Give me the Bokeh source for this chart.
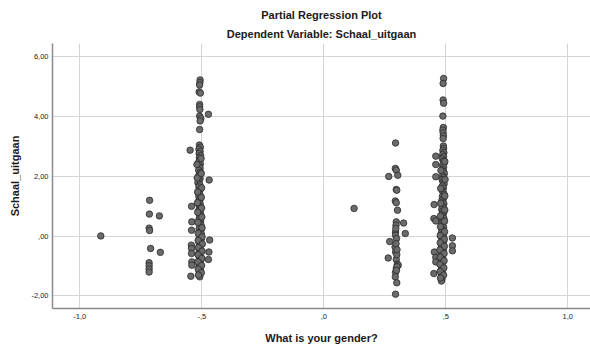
from bokeh.plotting import figure
from bokeh.models import Range1d, FixedTicker, Title, ColumnDataSource
from bokeh.embed import file_html
from bokeh.resources import INLINE

# ---- data ----
x_ticks = [-1.0, -0.5, 0.0, 0.5, 1.0]
x_tick_labels = ["-1,0", "-,5", ",0", ",5", "1,0"]
y_ticks = [-2, 0, 2, 4, 6]
y_tick_labels = ["-2,00", ",00", "2,00", "4,00", "6,00"]

far_left = [(-0.914, 0.01)]

cluster_m07 = [(-0.714, 1.20), (-0.715, 0.74), (-0.674, 0.68), (-0.716, 0.27), (-0.714, 0.19),
               (-0.710, -0.41), (-0.670, -0.54), (-0.716, -0.89), (-0.716, -0.99), (-0.716, -1.10),
               (-0.716, -1.20)]

left_top = [(-0.507, 5.23), (-0.508, 5.14), (-0.509, 5.06), (-0.511, 4.83), (-0.506, 4.79),
            (-0.509, 4.41), (-0.509, 4.33), (-0.508, 4.24), (-0.509, 4.02), (-0.504, 3.94),
            (-0.507, 3.86), (-0.509, 3.57)]

left_outliers = [(-0.473, 4.08), (-0.548, 2.88), (-0.470, 1.88), (-0.542, 1.00), (-0.541, 0.48),
                 (-0.542, 0.20), (-0.543, -0.30), (-0.542, -0.41), (-0.542, -0.58), (-0.541, -0.86),
                 (-0.541, -0.97), (-0.545, -1.34), (-0.468, -0.13), (-0.471, -0.53), (-0.473, -0.78)]

left_dense = [(-0.510, 3.05), (-0.506, 2.98), (-0.512, 2.91), (-0.507, 2.84), (-0.511, 2.77),
              (-0.505, 2.70), (-0.510, 2.63), (-0.507, 2.56), (-0.512, 2.49), (-0.506, 2.42),
              (-0.510, 2.35), (-0.507, 2.28), (-0.513, 2.21), (-0.506, 2.14), (-0.510, 2.07),
              (-0.514, 2.00), (-0.507, 1.93), (-0.511, 1.86), (-0.516, 1.79), (-0.508, 1.72),
              (-0.512, 1.65), (-0.505, 1.58), (-0.511, 1.51), (-0.515, 1.45), (-0.508, 1.39),
              (-0.512, 1.33), (-0.505, 1.27), (-0.510, 1.21), (-0.514, 1.15), (-0.507, 1.09),
              (-0.511, 1.03), (-0.504, 0.97), (-0.509, 0.91), (-0.513, 0.85), (-0.506, 0.79),
              (-0.510, 0.73), (-0.503, 0.67), (-0.508, 0.61), (-0.512, 0.55), (-0.505, 0.49),
              (-0.509, 0.43), (-0.503, 0.37), (-0.507, 0.31), (-0.511, 0.25), (-0.504, 0.19),
              (-0.508, 0.13), (-0.502, 0.07), (-0.506, 0.01), (-0.510, -0.05), (-0.503, -0.11),
              (-0.507, -0.17), (-0.511, -0.23), (-0.504, -0.29), (-0.508, -0.35), (-0.512, -0.41),
              (-0.505, -0.47), (-0.509, -0.53), (-0.513, -0.59), (-0.506, -0.65), (-0.510, -0.71),
              (-0.503, -0.77), (-0.508, -0.83), (-0.512, -0.89), (-0.505, -0.95), (-0.509, -1.01),
              (-0.513, -1.07), (-0.506, -1.13), (-0.510, -1.19), (-0.507, -1.25), (-0.511, -1.31),
              (-0.508, -1.36)]

left_dense2 = [(-0.501, 1.62), (-0.517, 1.48), (-0.502, 1.30), (-0.518, 1.12), (-0.501, 0.94),
               (-0.517, 0.80), (-0.500, 0.64), (-0.516, 0.46), (-0.499, 0.28), (-0.515, 0.10),
               (-0.499, -0.02), (-0.515, -0.14), (-0.498, -0.26), (-0.514, -0.38), (-0.499, -0.50),
               (-0.515, -0.62), (-0.500, -0.74), (-0.516, -0.86), (-0.501, -0.98), (-0.515, -1.10),
               (-0.502, -1.22), (-0.514, -1.30), (-0.520, 2.40), (-0.503, 2.60), (-0.519, 1.95),
               (-0.502, 2.10)]

single_mid = [(0.124, 0.93)]

cluster_p03 = [(0.294, 3.12), (0.293, 2.27), (0.297, 2.21), (0.303, 2.04), (0.266, 2.00),
               (0.297, 1.56), (0.299, 1.54), (0.293, 1.18), (0.297, 1.12), (0.302, 0.87),
               (0.297, 0.48), (0.296, 0.37), (0.327, 0.44), (0.334, 0.09), (0.294, 0.14),
               (0.294, 0.03), (0.298, -0.08), (0.270, -0.18), (0.292, -0.36), (0.294, -0.53),
               (0.264, -0.73), (0.297, -0.78), (0.301, -0.94), (0.305, -0.97), (0.297, -1.08),
               (0.294, -1.21), (0.293, -1.36), (0.299, -1.56), (0.294, -1.94), (0.296, -0.25),
               (0.299, -0.62), (0.300, -1.02), (0.298, -1.14), (0.295, 0.26), (0.300, -0.45)]

right_top = [(0.491, 5.28), (0.489, 5.11), (0.489, 4.56), (0.491, 4.45), (0.488, 4.02),
             (0.490, 3.64), (0.488, 3.55), (0.489, 3.46), (0.490, 3.36), (0.489, 3.27),
             (0.490, 3.02)]

right_outliers = [(0.459, 2.68), (0.459, 2.40), (0.459, 1.99), (0.452, 1.06), (0.451, 0.59),
                  (0.459, 0.51), (0.453, -0.53), (0.459, -0.71), (0.459, -0.86), (0.451, -1.25),
                  (0.527, -0.06), (0.527, -0.32), (0.527, -0.49)]

right_dense = [(0.491, 2.94), (0.488, 2.87), (0.492, 2.80), (0.487, 2.73), (0.491, 2.66),
               (0.486, 2.59), (0.490, 2.52), (0.493, 2.45), (0.487, 2.38), (0.491, 2.31),
               (0.486, 2.24), (0.490, 2.17), (0.494, 2.10), (0.487, 2.03), (0.491, 1.96),
               (0.485, 1.89), (0.489, 1.82), (0.493, 1.75), (0.486, 1.68), (0.490, 1.61),
               (0.485, 1.54), (0.489, 1.47), (0.493, 1.40), (0.486, 1.33), (0.490, 1.26),
               (0.484, 1.20), (0.488, 1.14), (0.492, 1.08), (0.485, 1.02), (0.489, 0.96),
               (0.483, 0.90), (0.487, 0.84), (0.491, 0.78), (0.484, 0.72), (0.488, 0.66),
               (0.492, 0.60), (0.485, 0.54), (0.489, 0.48), (0.483, 0.42), (0.487, 0.36),
               (0.491, 0.30), (0.484, 0.24), (0.488, 0.18), (0.482, 0.12), (0.486, 0.06),
               (0.490, 0.00), (0.483, -0.06), (0.487, -0.12), (0.491, -0.18), (0.484, -0.24),
               (0.488, -0.30), (0.482, -0.36), (0.486, -0.42), (0.490, -0.48), (0.483, -0.54),
               (0.487, -0.60), (0.481, -0.66), (0.485, -0.72), (0.489, -0.78), (0.482, -0.84),
               (0.486, -0.90), (0.480, -0.96), (0.484, -1.02), (0.488, -1.08), (0.481, -1.14),
               (0.485, -1.20), (0.482, -1.26), (0.486, -1.32), (0.481, -1.38), (0.484, -1.44),
               (0.482, -1.50)]

right_dense2 = [(0.496, 2.50), (0.480, 2.20), (0.497, 1.90), (0.479, 1.60), (0.496, 1.35),
                (0.479, 1.10), (0.496, 0.88), (0.478, 0.68), (0.495, 0.50), (0.478, 0.32),
                (0.495, 0.15), (0.477, 0.02), (0.494, -0.10), (0.477, -0.22), (0.494, -0.34),
                (0.476, -0.46), (0.493, -0.58), (0.477, -0.70), (0.493, -0.82), (0.476, -0.94),
                (0.492, -1.06), (0.477, -1.18), (0.491, -1.30), (0.478, -1.40)]

groups = [far_left, cluster_m07, left_top, left_outliers, left_dense, left_dense2,
          single_mid, cluster_p03, right_top, right_outliers, right_dense, right_dense2]
xs = [pt[0] for g in groups for pt in g]
ys = [pt[1] for g in groups for pt in g]

FONT = "Liberation Sans"

p = figure(width=590, height=351, output_backend="svg", toolbar_location=None,
           x_range=Range1d(-1.112, 1.093), y_range=Range1d(-2.42, 6.45),
           min_border_left=52, min_border_right=0, min_border_top=43, min_border_bottom=43)
p.background_fill_color = "white"
p.border_fill_color = "white"
p.outline_line_color = None

p.title.text = "Partial Regression Plot"
p.title.align = "center"
p.title.text_font = FONT
p.title.text_font_size = "11px"
p.title.text_font_style = "bold"
p.title.text_color = "#1a1a1a"
p.title.standoff = 4
p.title.offset = 0
p.add_layout(Title(text="Dependent Variable: Schaal_uitgaan", align="center", text_font=FONT,
                   text_font_size="11px", text_font_style="bold", text_color="#1a1a1a",
                   standoff=7), "above")

for ax in (p.xaxis[0], p.yaxis[0]):
    ax.major_tick_out = 0
    ax.major_tick_in = 0
    ax.minor_tick_out = 0
    ax.minor_tick_in = 0
    ax.axis_line_color = "#8a8a8a"
    ax.axis_line_width = 1.5
    ax.major_label_text_font = FONT
    ax.major_label_text_font_size = "7.5px"
    ax.major_label_text_color = "#222222"
    ax.axis_label_text_font = FONT
    ax.axis_label_text_font_size = "11px"
    ax.axis_label_text_font_style = "bold"
    ax.axis_label_text_color = "#1a1a1a"

p.xaxis.ticker = FixedTicker(ticks=x_ticks)
p.xaxis.major_label_overrides = {t: l for t, l in zip(x_ticks, x_tick_labels)}
p.yaxis.ticker = FixedTicker(ticks=y_ticks)
p.yaxis.major_label_overrides = {t: l for t, l in zip(y_ticks, y_tick_labels)}
p.xaxis.axis_label = "What is your gender?"
p.yaxis.axis_label = "Schaal_uitgaan"
p.xaxis.major_label_standoff = 5
p.yaxis.major_label_standoff = 4
p.xaxis.axis_label_standoff = 10
p.yaxis.axis_label_standoff = 7

p.xgrid.grid_line_color = "#d4d4d4"
p.ygrid.grid_line_color = "#d4d4d4"
p.xgrid.grid_line_width = 1
p.ygrid.grid_line_width = 1

src = ColumnDataSource(dict(x=xs, y=ys))
p.scatter("x", "y", source=src, size=6.5, fill_color="#6b6b6b", line_color="#2a2a2a",
          line_width=0.8)

open("out.html", "w").write(file_html(p, INLINE))
